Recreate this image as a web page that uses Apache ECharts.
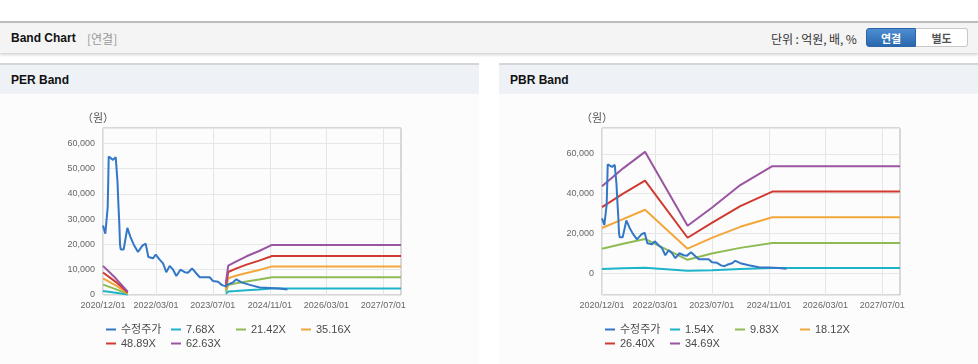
<!DOCTYPE html>
<html><head><meta charset="utf-8">
<script src="https://cdn.jsdelivr.net/npm/echarts@6/dist/echarts.min.js"></script>
<style>
html,body{margin:0;padding:0;background:#fff;width:978px;height:364px;overflow:hidden;font-family:"Liberation Sans","Noto Sans CJK KR",sans-serif;}
#hdr{position:absolute;left:0;top:21px;width:978px;height:30px;background:#f4f4f4;border-top:2px solid #bcbcbc;box-shadow:0 2px 3px rgba(0,0,0,0.18);}
#hdr .t{position:absolute;left:11px;top:8px;font-size:12px;font-weight:bold;color:#111;}
#hdr .s{position:absolute;left:87px;top:8px;font-size:12px;color:#999;font-family:"Noto Sans CJK KR",sans-serif;line-height:15px;}
#hdr .u{position:absolute;left:771px;top:8px;font-size:12px;color:#333;font-family:"Noto Sans CJK KR",sans-serif;line-height:15px;letter-spacing:-0.1px;}
.btn{position:absolute;top:5px;height:19px;width:50px;font-size:11px;font-weight:bold;text-align:center;line-height:19px;font-family:"Noto Sans CJK KR",sans-serif;box-sizing:border-box;}
#b1{left:866px;background:linear-gradient(#4d8dd2,#2a68ad);color:#fff;border:1px solid #2a64a6;border-radius:3px 0 0 3px;}
#b2{left:916px;width:52px;background:#fff;color:#555;border:1px solid #c8c8c8;border-left:none;border-radius:0 3px 3px 0;}
.panel{position:absolute;top:63px;height:299px;background:#fcfcfc;border-top:2px solid #d5d5d5;border-bottom:2px solid #d5d5d5;}
.ph{position:absolute;left:0;top:0;right:0;height:29px;background:#eef2f7;}
.ph span{position:absolute;left:11px;top:8px;font-size:12px;font-weight:bold;color:#111;}
.chart{position:absolute;top:94px;width:479px;height:268px;}
</style></head>
<body>
<div id="hdr"><div class="t">Band Chart</div><div class="s">[연결]</div><div class="u">단위 : 억원, 배, %</div><div class="btn" id="b1">연결</div><div class="btn" id="b2">별도</div></div>
<div class="panel" style="left:0;width:479px;"><div class="ph"><span>PER Band</span></div></div>
<div class="panel" style="left:499px;width:479px;"><div class="ph"><span>PBR Band</span></div></div>
<div class="chart" id="per" style="left:0;"></div>
<div class="chart" id="pbr" style="left:499px;"></div>
<script>
// ---------- data ----------
const xTickLabels = ['2020/12/01','2022/03/01','2023/07/01','2024/11/01','2026/03/01','2027/07/01'];
const xStart = '2020-12-01', xEnd = '2027-12-01';
const priceName = '수정주가';
const priceDates = ['2020-12-01','2020-12-21','2020-12-30','2021-01-10','2021-01-15','2021-01-19','2021-02-05','2021-02-25','2021-03-20','2021-04-04','2021-04-12','2021-04-20','2021-04-26','2021-05-02','2021-05-27','2021-06-28','2021-07-24','2021-08-21','2021-09-27','2021-11-04','2021-12-02','2021-12-25','2022-02-03','2022-02-26','2022-04-01','2022-04-30','2022-05-28','2022-06-26','2022-07-25','2022-08-22','2022-09-26','2022-11-02','2022-11-30','2023-01-04','2023-02-10','2023-03-11','2023-06-04','2023-07-03','2023-08-15','2023-09-18','2023-10-17','2023-11-09','2023-12-22','2024-01-19','2024-03-02','2024-05-13','2024-08-06','2024-10-31','2025-01-25','2025-04-01'];
const priceValues = [27500,24200,24600,34500,45000,54700,54000,53400,54500,45000,36000,28000,20000,18000,18000,26500,23000,20000,17000,19500,20300,15000,14500,16000,14000,12500,9000,11500,10000,7500,10000,9000,8800,10500,8500,7000,7000,5500,5200,3900,3500,4200,5000,6200,5000,4000,3000,2800,2600,2200];

const perNames = ['7.68X','21.42X','35.16X','48.89X','62.63X'];
const perBandDates = ['2020-12-01','2021-03-20','2021-07-01','2022-09-01','2023-10-20','2023-11-10','2024-01-15','2024-04-15','2024-08-01','2024-11-20','2027-12-01'];
const perBand768  = [1600, 900, 200, null, 500, 1400, 1600, 1900, 2200, 2600, 2600];
const perBand2142 = [4100, 2300, 450, null, 1300, 3900, 4600, 5300, 6100, 7000, 7000];
const perBand3516 = [6600, 3800, 700, null, 2100, 6600, 7600, 8700, 9900, 11300, 11300];
const perBand4889 = [8900, 5200, 1000, null, 3000, 9100, 10400, 12000, 13600, 15400, 15400];
const perBand6263 = [11500, 6600, 1300, null, 4500, 11600, 13200, 15300, 17400, 19800, 19800];

const pbrNames = ['1.54X','9.83X','18.12X','26.40X','34.69X'];
const pbrBandDates = ['2020-12-01','2021-05-31','2021-12-05','2022-12-05','2023-07-01','2024-03-01','2024-12-01','2027-12-01'];
const pbrBand154  = [2100, 2400, 2700, 1200, 1500, 2100, 2600, 2600];
const pbrBand983  = [12300, 14800, 17200, 6700, 9900, 12700, 15200, 15200];
const pbrBand1812 = [22700, 27200, 31900, 12300, 17700, 23300, 28100, 28100];
const pbrBand2640 = [33200, 40000, 46500, 17800, 25300, 33700, 41000, 41000];
const pbrBand3469 = [43700, 52700, 61000, 23800, 32900, 44300, 53800, 53800];

const colors = ['#3377c6','#1cb4c9','#8fbb55','#f2a73b','#cf3a31','#9a55a1'];

// ---------- build ----------
const FONT = '"Liberation Sans","Noto Sans CJK KR",sans-serif';
function ts(s){ const p = s.replace(/\//g,'-').split('-').map(Number); return Date.UTC(p[0], p[1]-1, p[2]); }
const tickValues = xTickLabels.map(ts);
function pairs(dates, vals){ return dates.map((d,i)=>[ts(d), vals[i] == null ? '-' : vals[i]]); }
function fmtDate(v){ const d = new Date(v); const m = d.getUTCMonth()+1, dd = d.getUTCDate();
  return d.getUTCFullYear() + '/' + (m<10?'0':'') + m + '/' + (dd<10?'0':'') + dd; }

function build(el, bandNames, bandDates, bands, yMin, yMax){
  const chart = echarts.init(document.getElementById(el), null, {renderer:'canvas'});
  const names = [priceName].concat(bandNames);
  const series = [{
    name: priceName, type:'line', data: pairs(priceDates, priceValues),
    showSymbol:false, lineStyle:{width:2, color:colors[0]}, itemStyle:{color:colors[0]}, z:3
  }];
  bands.forEach((b,i)=>{
    series.push({name: bandNames[i], type:'line', data: pairs(bandDates, b), connectNulls:false,
      showSymbol:false, lineStyle:{width:2, color:colors[i+1]}, itemStyle:{color:colors[i+1]}, z:2});
  });
  const legendCommon = {
    orient:'horizontal', left:106, padding:0, itemWidth:10, itemHeight:2, itemGap:5, icon:'rect',
    selectedMode:false,
    formatter: n => '{a|' + n + '}',
    textStyle:{color:'#4a4a4a', fontSize:11, fontFamily:FONT, rich:{a:{width:45, fontSize:11, color:'#4a4a4a', fontFamily:FONT, lineHeight:12}}}
  };
  chart.setOption({
    animation:false,
    color: colors,
    grid:{left:103, top:34, width:298, height:167, show:true, borderColor:'#b3b3b3', borderWidth:1, backgroundColor:'transparent'},
    legend:[
      Object.assign({top:230, data:names.slice(0,4)}, legendCommon),
      Object.assign({top:244, data:names.slice(4)}, legendCommon)
    ],
    xAxis:{
      type:'value', min:ts(xStart), max:ts(xEnd), scale:true,
      axisLine:{show:false}, axisTick:{show:false, customValues: tickValues},
      splitLine:{show:true, lineStyle:{color:'#e6e6e6'}},
      axisLabel:{customValues: tickValues, color:'#666', fontSize:9, fontFamily:FONT, margin:6,
        formatter: v => fmtDate(v), hideOverlap:false}
    },
    yAxis:{
      type:'value', min:yMin, max:yMax,
      name:'（원）', nameLocation:'end', nameGap:5,
      nameTextStyle:{color:'#555', fontSize:11, fontFamily:'"Noto Sans CJK KR",sans-serif', padding:[0,10,0,0]},
      axisLine:{show:false}, axisTick:{show:false},
      splitLine:{show:true, lineStyle:{color:'#e6e6e6'}},
      axisLabel:{color:'#666', fontSize:9, fontFamily:FONT, margin:8, showMinLabel: yMin<0 ? false : true, showMaxLabel:false,
        formatter: v => v.toLocaleString('en-US')}
    },
    series: series
  });
}
build('per', perNames, perBandDates, [perBand768, perBand2142, perBand3516, perBand4889, perBand6263], 0, 66000);
build('pbr', pbrNames, pbrBandDates, [pbrBand154, pbrBand983, pbrBand1812, pbrBand2640, pbrBand3469], -11000, 73000);
</script>
</body></html>
